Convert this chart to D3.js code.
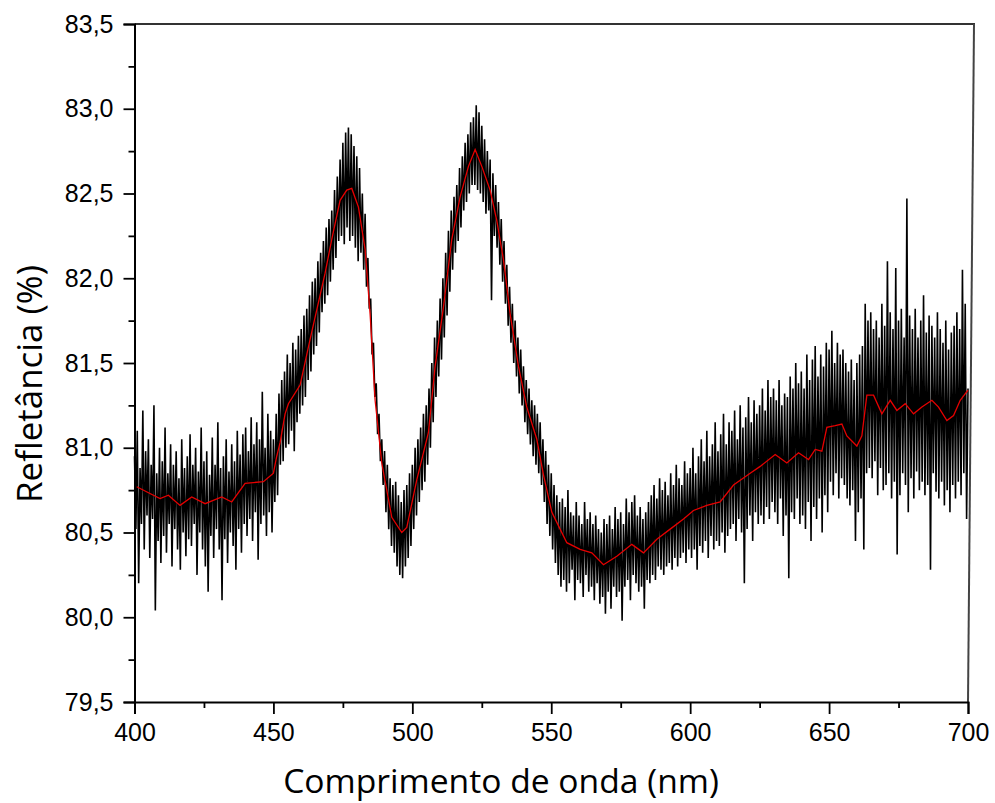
<!DOCTYPE html>
<html>
<head>
<meta charset="utf-8">
<script src="https://cdn.jsdelivr.net/npm/d3@7"></script>
<style>
  body { margin: 0; background: #fff; }
  svg { display: block; }
</style>
</head>
<body>
<div id="chart"></div>
<script>
// axis settings
const xTicks = [400, 450, 500, 550, 600, 650, 700];
const xMinor = [425, 475, 525, 575, 625, 675];
const yTicks = [79.5, 80.0, 80.5, 81.0, 81.5, 82.0, 82.5, 83.0, 83.5];
const yMinor = [79.75, 80.25, 80.75, 81.25, 81.75, 82.25, 82.75, 83.25];
const xTitle = "Comprimento de onda (nm)";
const yTitle = "Refletância (%)";

// raw measurement, one value every 0.5 nm from 400 nm (rows of 5 nm)
const rawStart = 400, rawStep = 0.5;
const rawValues = [
  80.95, 80.52, 81.10, 80.20, 80.88, 80.55, 81.22, 80.40, 80.98, 80.60,
  81.05, 80.35, 80.90, 80.58, 81.25, 80.04, 80.85, 80.45, 81.00, 80.32,
  80.92, 80.48, 81.12, 80.38, 80.85, 80.55, 81.02, 80.30, 80.90, 80.52,
  80.98, 80.40, 80.82, 80.28, 81.05, 80.50, 80.88, 80.36, 80.95, 80.46,
  81.08, 80.42, 80.90, 80.55, 81.00, 80.25, 80.86, 80.50, 81.12, 80.40,
  80.92, 80.30, 80.98, 80.15, 80.84, 80.48, 81.06, 80.35, 80.90, 80.52,
  81.15, 80.40, 80.88, 80.10, 80.95, 80.46, 81.05, 80.32, 80.86, 80.50,
  81.02, 80.42, 80.92, 80.28, 81.10, 80.52, 80.96, 80.38, 81.08, 80.55,
  81.12, 80.48, 80.98, 80.58, 81.18, 80.45, 81.02, 80.62, 81.15, 80.34,
  81.05, 80.55, 81.33, 80.60, 81.00, 80.48, 81.20, 80.62, 81.10, 80.50,
  81.05, 80.68, 81.20, 80.72, 81.32, 80.90, 81.40, 80.92, 81.45, 81.00,
  81.55, 81.02, 81.50, 81.10, 81.62, 80.98, 81.58, 81.15, 81.66, 81.20,
  81.70, 81.25, 81.78, 81.30, 81.82, 81.40, 81.90, 81.45, 81.98, 81.55,
  82.00, 81.60, 82.10, 81.68, 82.15, 81.80, 82.22, 81.85, 82.30, 81.90,
  82.35, 81.98, 82.40, 82.05, 82.52, 82.12, 82.60, 82.22, 82.70, 82.25,
  82.80, 82.20, 82.86, 82.30, 82.89, 82.22, 82.85, 82.25, 82.78, 82.18,
  82.72, 82.10, 82.65, 82.15, 82.50, 82.05, 82.38, 81.95, 82.12, 81.82,
  81.88, 81.55, 81.62, 81.30, 81.38, 81.08, 81.20, 80.92, 81.05, 80.78,
  80.98, 80.62, 80.90, 80.52, 80.82, 80.42, 80.78, 80.38, 80.80, 80.30,
  80.72, 80.25, 80.68, 80.23, 80.75, 80.30, 80.78, 80.35, 80.85, 80.42,
  80.90, 80.52, 81.00, 80.60, 81.05, 80.68, 81.12, 80.75, 81.20, 80.80,
  81.25, 80.90, 81.35, 81.00, 81.50, 81.15, 81.65, 81.30, 81.75, 81.42,
  81.88, 81.52, 82.00, 81.65, 82.15, 81.78, 82.28, 81.92, 82.40, 82.05,
  82.48, 82.15, 82.55, 82.22, 82.65, 82.30, 82.72, 82.40, 82.80, 82.45,
  82.85, 82.50, 82.92, 82.55, 82.95, 82.55, 83.02, 82.52, 82.98, 82.50,
  82.90, 82.45, 82.82, 82.38, 82.75, 82.40, 82.70, 81.87, 82.62, 82.25,
  82.55, 82.18, 82.45, 82.08, 82.35, 81.98, 82.22, 81.85, 82.08, 81.72,
  81.95, 81.62, 81.85, 81.50, 81.75, 81.42, 81.65, 81.32, 81.58, 81.25,
  81.48, 81.15, 81.40, 81.08, 81.35, 81.02, 81.28, 80.95, 81.25, 80.90,
  81.20, 80.85, 81.15, 80.78, 81.05, 80.68, 80.98, 80.55, 80.90, 80.48,
  80.85, 80.40, 80.78, 80.32, 80.72, 80.25, 80.68, 80.18, 80.70, 80.22,
  80.65, 80.15, 80.75, 80.20, 80.62, 80.28, 80.60, 80.10, 80.68, 80.22,
  80.60, 80.20, 80.55, 80.12, 80.68, 80.25, 80.58, 80.15, 80.62, 80.18,
  80.55, 80.10, 80.60, 80.20, 80.52, 80.08, 80.50, 80.12, 80.58, 80.02,
  80.55, 80.15, 80.60, 80.05, 80.52, 80.18, 80.65, 80.12, 80.58, 80.15,
  80.62, 79.98, 80.55, 80.18, 80.70, 80.22, 80.62, 80.10, 80.68, 80.25,
  80.72, 80.20, 80.60, 80.15, 80.65, 80.18, 80.58, 80.05, 80.62, 80.22,
  80.68, 80.20, 80.72, 80.25, 80.78, 80.22, 80.70, 80.30, 80.82, 80.28,
  80.75, 80.25, 80.80, 80.30, 80.72, 80.32, 80.85, 80.28, 80.78, 80.35,
  80.90, 80.30, 80.82, 80.35, 80.78, 80.38, 80.92, 80.32, 80.85, 80.40,
  80.88, 80.35, 81.00, 80.40, 80.85, 80.28, 80.95, 80.42, 81.05, 80.38,
  80.92, 80.45, 81.10, 80.35, 80.95, 80.48, 81.02, 80.40, 81.15, 80.45,
  80.98, 80.42, 81.08, 80.50, 81.20, 80.38, 81.02, 80.48, 81.15, 80.52,
  81.10, 80.55, 81.22, 80.45, 81.05, 80.58, 81.25, 80.50, 81.12, 80.20,
  81.18, 80.52, 81.30, 80.60, 81.15, 80.45, 81.28, 80.62, 81.20, 80.55,
  81.25, 80.60, 81.35, 80.55, 81.22, 80.65, 81.40, 80.58, 81.30, 80.68,
  81.35, 80.62, 81.28, 80.55, 81.40, 80.70, 81.25, 80.48, 81.32, 80.60,
  81.30, 80.23, 81.42, 80.62, 81.35, 80.58, 81.50, 80.70, 81.38, 80.55,
  81.45, 80.60, 81.35, 80.52, 81.55, 80.68, 81.40, 80.45, 81.52, 80.65,
  81.60, 80.58, 81.42, 80.70, 81.55, 80.50, 81.48, 80.72, 81.62, 80.62,
  81.58, 80.80, 81.69, 80.72, 81.50, 80.85, 81.62, 80.70, 81.55, 80.82,
  81.58, 80.78, 81.50, 80.70, 81.45, 80.66, 81.52, 80.75, 81.40, 80.45,
  81.50, 80.62, 81.55, 80.70, 81.60, 80.40, 81.85, 80.85, 81.75, 80.88,
  81.80, 80.82, 81.70, 80.92, 81.75, 80.72, 81.65, 80.88, 81.85, 80.75,
  81.72, 80.78, 82.10, 80.85, 81.80, 80.70, 81.70, 80.80, 82.06, 80.37,
  81.75, 80.72, 81.82, 80.85, 81.65, 80.78, 82.47, 80.62, 81.78, 80.82,
  81.70, 80.70, 81.82, 80.86, 81.65, 80.75, 81.75, 80.80, 81.90, 80.72,
  81.68, 80.78, 81.78, 80.28, 81.72, 80.85, 81.65, 80.74, 81.80, 80.70,
  81.70, 80.80, 81.62, 80.66, 81.75, 80.75, 81.58, 80.62, 81.68, 80.78,
  81.72, 80.70, 81.80, 80.80, 81.70, 80.72, 82.05, 80.85, 81.85, 80.58,
  81.35
];

// smoothed curve (red)
const smoothNm = [400.8, 406.8, 409.2, 412.2, 416.4, 420.6, 425.4, 431.4, 435, 439.8,
  446.4, 450, 451.2, 452.4, 454.2, 455.4, 459.6, 463.2, 468.6, 471, 474, 476.4, 478.2,
  480.6, 483, 484.8, 486.6, 489, 492.6, 496.2, 498, 501.6, 505.8, 508.2, 511.2, 514.2,
  517.2, 520.2, 522.6, 525, 528, 530.4, 532.8, 535.2, 538.2, 541.2, 544.8, 547.2, 550.2,
  555.6, 560.4, 564.6, 568.8, 573.6, 579, 583.2, 588, 592.8, 597.6, 601.2, 606, 610.8,
  615.6, 621.6, 625.2, 630.6, 634.8, 639, 642.6, 645, 647.4, 649.2, 652.2, 654.6, 656.4,
  660, 661.8, 663.6, 666, 669, 672, 674.4, 677.4, 680.4, 683.4, 687, 689.4, 692.4, 694.8,
  697.2, 700];
const smoothVal = [80.77, 80.72, 80.70, 80.72, 80.66, 80.71, 80.67, 80.71, 80.68, 80.79,
  80.80, 80.85, 80.95, 81.03, 81.20, 81.26, 81.37, 81.64, 82.03, 82.23, 82.46, 82.52, 82.53,
  82.42, 82.17, 81.79, 81.28, 80.91, 80.59, 80.50, 80.53, 80.81, 81.09, 81.48, 81.83, 82.23,
  82.48, 82.66, 82.76, 82.66, 82.52, 82.34, 82.11, 81.79, 81.48, 81.24, 81.05, 80.84, 80.62,
  80.44, 80.40, 80.38, 80.31, 80.36, 80.43, 80.38, 80.46, 80.52, 80.58, 80.63, 80.66, 80.68,
  80.78, 80.85, 80.89, 80.96, 80.91, 80.97, 80.93, 80.99, 80.98, 81.12, 81.13, 81.14, 81.07,
  81.01, 81.07, 81.31, 81.31, 81.20, 81.28, 81.22, 81.26, 81.20, 81.24, 81.28, 81.24, 81.16,
  81.19, 81.28, 81.34];

const raw = rawValues.map((v, i) => ({ x: rawStart + i * rawStep, y: v }));
const smooth = smoothNm.map((x, i) => ({ x: x, y: smoothVal[i] }));

const W = 995, H = 803;
const svg = d3.select("#chart").append("svg")
  .attr("width", W)
  .attr("height", H);

const x = d3.scaleLinear().domain([400, 700]).range([134.5, 968]);
const y = d3.scaleLinear().domain([79.5, 83.5]).range([702, 24]);
const comma = d => d3.format(".1f")(d).replace(".", ",");
const tickFont = "'Liberation Sans', Arial, sans-serif";
const titleFont = "'Open Sans', sans-serif";

// data lines
const line = d3.line().x(d => x(d.x)).y(d => y(d.y));
svg.append("path")
  .datum(raw)
  .attr("fill", "none")
  .attr("stroke", "#000")
  .attr("stroke-width", 1.6)
  .attr("stroke-linejoin", "bevel")
  .attr("d", line);
svg.append("path")
  .datum(smooth)
  .attr("fill", "none")
  .attr("stroke", "#e60000")
  .attr("stroke-width", 1.3)
  .attr("d", line);

// frame (top and right side)
svg.append("line")
  .attr("x1", x(400)).attr("x2", 975)
  .attr("y1", y(83.5)).attr("y2", y(83.5))
  .attr("stroke", "#333").attr("stroke-width", 2);
svg.append("line")
  .attr("x1", 974).attr("x2", x(700))
  .attr("y1", y(83.5)).attr("y2", y(79.5))
  .attr("stroke", "#444").attr("stroke-width", 2);

// y axis
svg.append("g")
  .attr("transform", `translate(${x(400)},0)`)
  .call(d3.axisLeft(y).tickValues(yTicks).tickSize(11).tickPadding(10).tickFormat(comma));
svg.append("g")
  .attr("transform", `translate(${x(400)},0)`)
  .call(d3.axisLeft(y).tickValues(yMinor).tickSize(6).tickFormat(""))
  .select(".domain").remove();

// x axis
svg.append("g")
  .attr("transform", `translate(0,${y(79.5)})`)
  .call(d3.axisBottom(x).tickValues(xTicks).tickSize(12).tickPadding(9).tickFormat(d3.format("d")));
svg.append("g")
  .attr("transform", `translate(0,${y(79.5)})`)
  .call(d3.axisBottom(x).tickValues(xMinor).tickSize(6).tickFormat(""))
  .select(".domain").remove();

svg.selectAll(".domain").attr("stroke", "#000").attr("stroke-width", 2);
svg.selectAll(".tick line").attr("stroke", "#000").attr("stroke-width", 1.8);
svg.selectAll(".tick text")
  .attr("font-family", tickFont)
  .attr("font-size", 25)
  .attr("fill", "#000");

// axis titles, sized to the widths measured on the picture
function fitText(sel, width) {
  const w = sel.node().getComputedTextLength();
  const fs = parseFloat(sel.attr("font-size"));
  sel.attr("font-size", fs * width / w);
}
const xt = svg.append("text")
  .attr("x", 501)
  .attr("y", 793)
  .attr("text-anchor", "middle")
  .attr("font-family", titleFont)
  .attr("font-size", 29)
  .text(xTitle);
fitText(xt, 436);

const yt = svg.append("text")
  .attr("transform", "translate(42,384) rotate(-90)")
  .attr("text-anchor", "middle")
  .attr("font-family", titleFont)
  .attr("font-size", 29)
  .text(yTitle);
fitText(yt, 238);
</script>
</body>
</html>
